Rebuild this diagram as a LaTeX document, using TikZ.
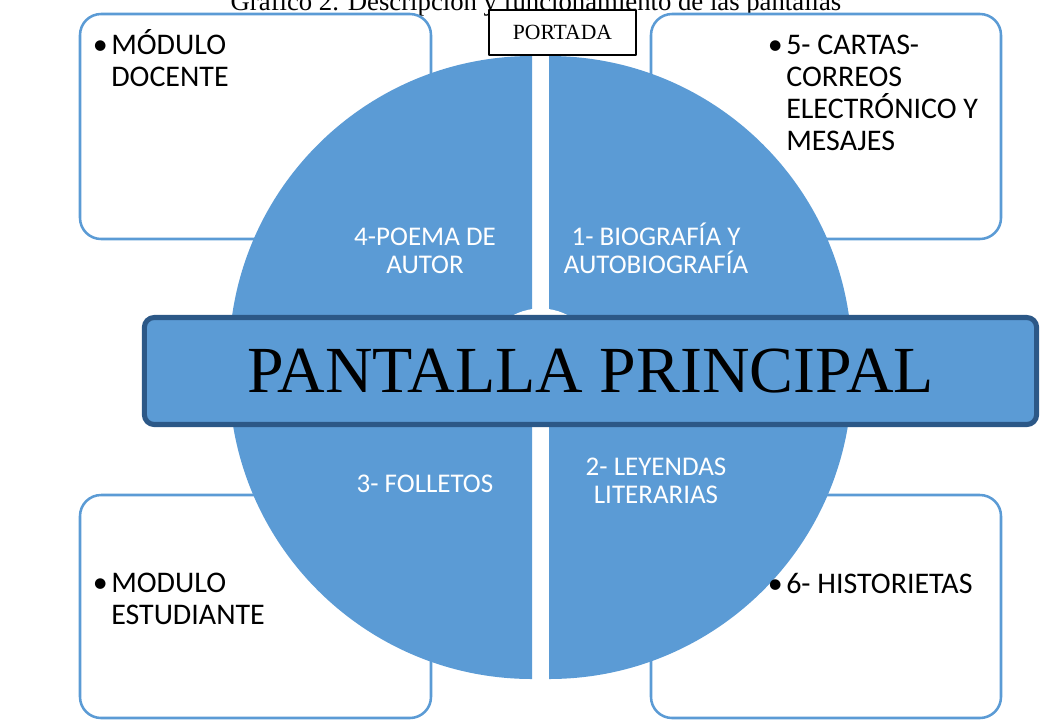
\documentclass[tikz,border=0pt]{standalone}
\usepackage{fontspec}
\setmainfont{Liberation Serif}
\newfontfamily\calibri{Carlito}
\definecolor{azul}{HTML}{5B9BD5}
\definecolor{azulosc}{HTML}{2C5887}
\newcommand\vineta{\llap{\textbullet\hspace{2.5pt}}}
\begin{document}
\begin{tikzpicture}[x=0.025cm,y=-0.025cm,line join=round,
	caja/.style={draw=azul,line width=1.8pt,rounded corners=15pt,fill=white},
	cuarto/.style={fill=azul},
	textocaja/.style={anchor=base west,inner sep=0pt,align=left,font=\calibri\fontsize{21.3}{22.7}\selectfont},
	textocuarto/.style={anchor=base,inner sep=0pt,align=center,text=white,font=\calibri\fontsize{19.2}{19.8}\selectfont}]
	\useasboundingbox (0,0) rectangle (1059,719);
	% titulo
	\node[anchor=base,inner sep=0pt,font=\fontsize{19}{22}\selectfont] (titulo) at (536,10) {Gráfico 2. Descripción y funcionamiento de las pantallas};
	% cajas de las esquinas
	\draw[caja] (80,14) rectangle (431,239);
	\draw[caja] (651,14) rectangle (1001,239);
	\draw[caja] (80,495) rectangle (431,718);
	\draw[caja] (651,495) rectangle (1001,718);
	% los cuatro cuartos del circulo
	\def\r{303} % radio de cada cuarto
	\fill[cuarto] (532,359) -- ++(180:\r) arc[start angle=180,end angle=270,radius=\r] -- cycle;
	\fill[cuarto] (549,359) -- ++(270:\r) arc[start angle=270,end angle=360,radius=\r] -- cycle;
	\fill[cuarto] (549,376) -- ++(0:\r) arc[start angle=0,end angle=90,radius=\r] -- cycle;
	\fill[cuarto] (532,376) -- ++(90:\r) arc[start angle=90,end angle=180,radius=\r] -- cycle;
	\fill[white] (540.5,367.5) circle[radius=59];
	% textos de los cuartos (base = ultima linea)
	\node[textocuarto] (poema) at (425,273) {4-POEMA DE\\AUTOR};
	\node[textocuarto] (biografia) at (656,273) {1- BIOGRAFÍA Y\\AUTOBIOGRAFÍA};
	\node[textocuarto] (folletos) at (425,492) {3- FOLLETOS};
	\node[textocuarto] (leyendas) at (656,503) {2- LEYENDAS\\LITERARIAS};
	% franja central
	\node[draw=azulosc,fill=azul,line width=3.6pt,rounded corners=7pt,minimum width=22.3cm,minimum height=2.675cm,inner sep=0pt,font=\fontsize{46.8}{50}\selectfont] (principal) at (590.5,371) {PANTALLA PRINCIPAL};
	% portada
	\node[draw=black,fill=white,line width=0.9pt,minimum width=3.675cm,minimum height=1.125cm,inner sep=0pt,font=\fontsize{15.4}{17}\selectfont] (portada) at (562.5,32.5) {PORTADA};
	% textos de las cajas
	\node[textocaja] (docente) at (111,86) {\vineta MÓDULO\\DOCENTE};
	\node[textocaja] (cartas) at (786,150) {\vineta 5- CARTAS-\\CORREOS\\ELECTRÓNICO Y\\MESAJES};
	\node[textocaja] (estudiante) at (111,624) {\vineta MODULO\\ESTUDIANTE};
	\node[textocaja] (historietas) at (786,593) {\vineta 6- HISTORIETAS};
\end{tikzpicture}
\end{document}
